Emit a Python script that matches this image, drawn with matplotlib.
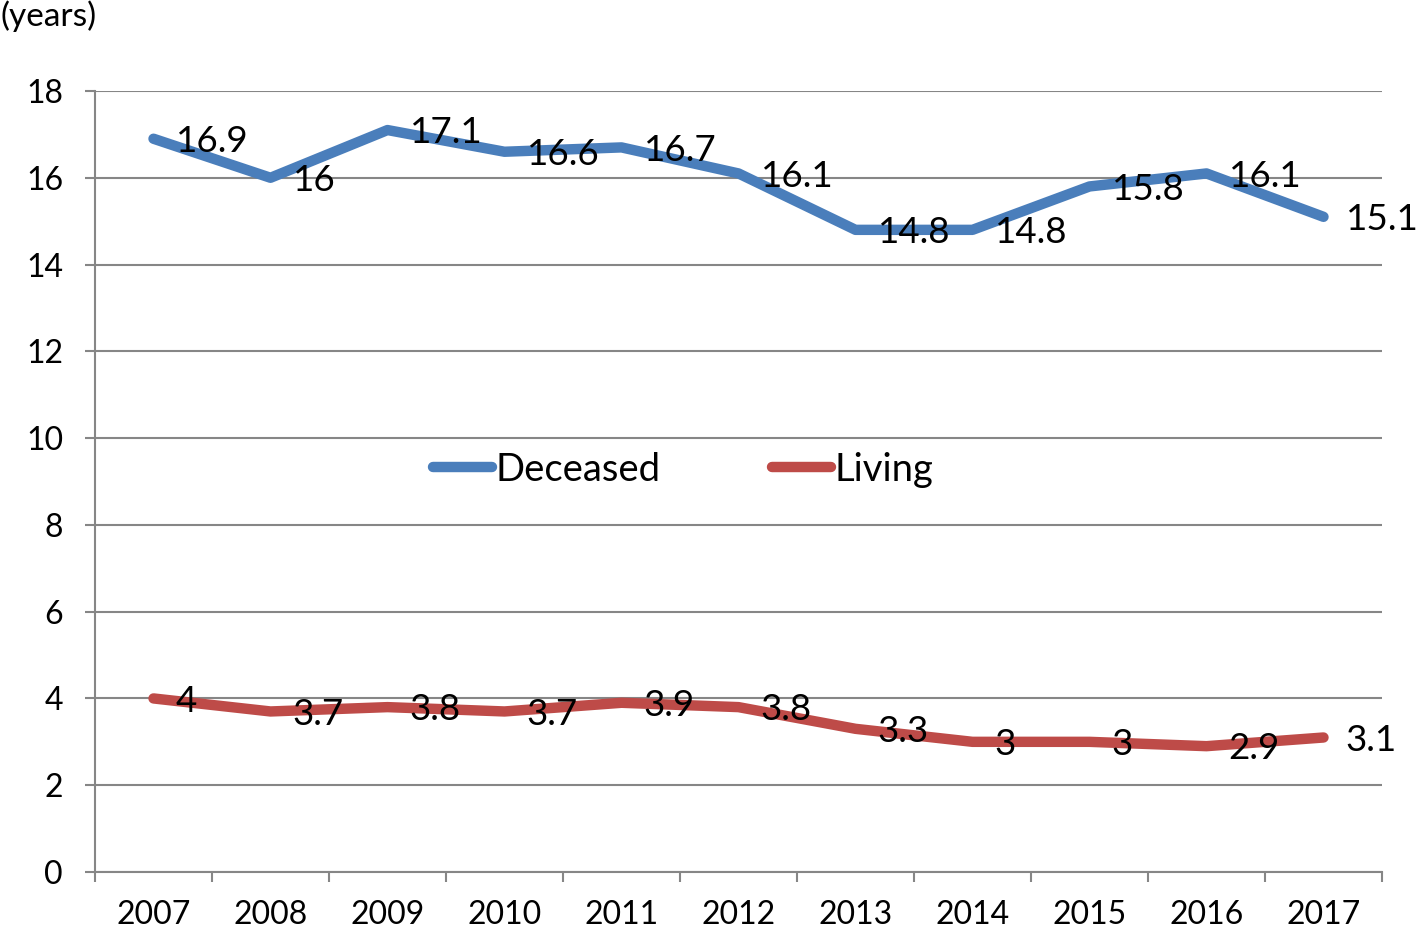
import matplotlib
matplotlib.use("Agg")
import matplotlib.pyplot as plt
import numpy as np

years = ["2007", "2008", "2009", "2010", "2011", "2012", "2013", "2014", "2015", "2016", "2017"]
deceased = [16.9, 16.0, 17.1, 16.6, 16.7, 16.1, 14.8, 14.8, 15.8, 16.1, 15.1]
living = [4.0, 3.7, 3.8, 3.7, 3.9, 3.8, 3.3, 3.0, 3.0, 2.9, 3.1]
yticks = [0, 2, 4, 6, 8, 10, 12, 14, 16, 18]

plt.rcParams['font.family'] = ['Lato', 'DejaVu Sans']

fig = plt.figure(figsize=(14.18, 9.31), dpi=100)
ax = fig.add_axes([95/1418, 1-872/931, (1382-95)/1418, (872-91)/931])

x = np.arange(len(years))
blue = "#4a7ebb"
red = "#be4b48"
grid = "#868686"

ax.plot(x, deceased, color=blue, lw=7.5, solid_capstyle='round', solid_joinstyle='round', label="Deceased", zorder=3)
ax.plot(x, living, color=red, lw=7.5, solid_capstyle='round', solid_joinstyle='round', label="Living", zorder=3)

def fmt(v):
    return f"{v:g}"

for xi, v in zip(x, deceased):
    ax.annotate(fmt(v), (xi, v), xytext=(16, -2), textcoords='offset points',
                ha='left', va='center', fontsize=26.5, color='black', zorder=4)
for xi, v in zip(x, living):
    ax.annotate(fmt(v), (xi, v), xytext=(16, -2), textcoords='offset points',
                ha='left', va='center', fontsize=26.5, color='black', zorder=4)

ax.set_xlim(-0.5, len(years) - 0.5)
ax.set_ylim(0, 18)
ax.set_yticks(yticks)
ax.set_yticklabels([str(t) for t in yticks])
ax.yaxis.grid(True, color=grid, lw=1.5)
ax.set_axisbelow(True)

ax.set_xticks(x)
ax.set_xticklabels(years)
ax.set_xticks(np.arange(-0.5, len(years) + 0.5, 1), minor=True)
ax.tick_params(axis='x', which='major', length=0, pad=20, labelsize=23)
ax.tick_params(axis='x', which='minor', length=7, width=1.5, color=grid, direction='out')
ax.tick_params(axis='y', which='major', length=7, width=1.5, color=grid, pad=16, labelsize=23)

for s in ['top', 'right']:
    ax.spines[s].set_visible(False)
for s in ['left', 'bottom']:
    ax.spines[s].set_color(grid)
    ax.spines[s].set_linewidth(1.5)

leg = ax.legend(loc='center', bbox_to_anchor=(0.457, 0.515), ncol=2, frameon=False,
                fontsize=27.5, handlelength=1.55, handletextpad=0.1, columnspacing=2.9)

fig.text(0, 1 - 16/931, "(years)", fontsize=24, ha='left', va='center')

fig.savefig("out.png", dpi=100)
